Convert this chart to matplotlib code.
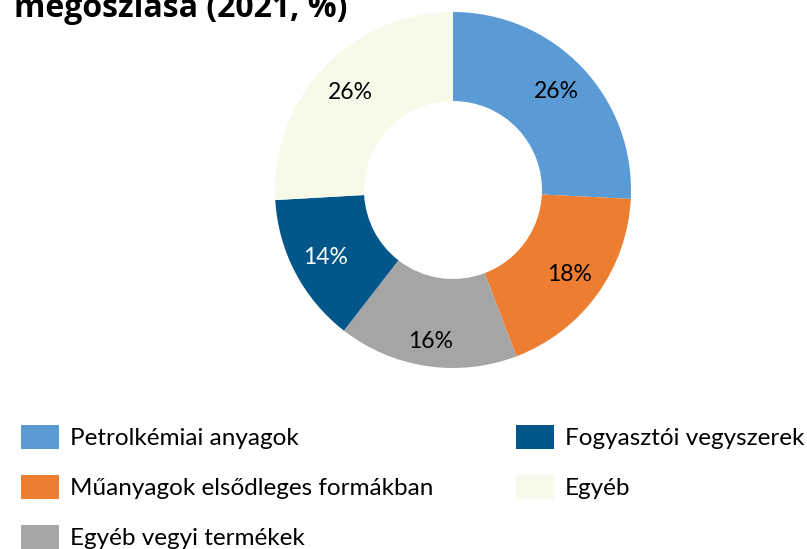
import matplotlib
matplotlib.use("Agg")
import matplotlib.pyplot as plt
import numpy as np

categories = ["Petrolkémiai anyagok", "Műanyagok elsődleges formákban",
              "Egyéb vegyi termékek", "Fogyasztói vegyszerek", "Egyéb"]
shares = [25.8, 18.4, 16.3, 13.6, 25.9]
pct_labels = ["26%", "18%", "16%", "14%", "26%"]
colors = ["#5B9BD5", "#ED7D31", "#A5A5A5", "#02568A", "#F7F9E9"]
label_colors = ["black", "black", "black", "white", "black"]
title = "megoszlása (2021, %)"

# label placement (layout only)
label_r = [0.80, 0.81, 0.86, 0.81, 0.795]

W, H = 807, 549
fig = plt.figure(figsize=(W / 100, H / 100), dpi=100)

cx, cy, R = 453, 190, 178
ax = fig.add_axes([(cx - R) / W, (H - cy - R) / H, 2 * R / W, 2 * R / H])
wedges, _ = ax.pie(shares, colors=colors, startangle=90, counterclock=False,
                   radius=1, wedgeprops=dict(width=0.5, edgecolor="none"))
ax.set_xlim(-1, 1)
ax.set_ylim(-1, 1)
ax.axis("off")

total = sum(shares)
cum = 0
for v, lab, lc, r in zip(shares, pct_labels, label_colors, label_r):
    mid = 90 - (cum + v / 2) / total * 360
    cum += v
    ax.text(r * np.cos(np.radians(mid)), r * np.sin(np.radians(mid)), lab,
            ha="center", va="center", fontsize=16.5, color=lc, family="Lato")

fig.text(14 / W, 1 - 17 / H, title, ha="left", va="baseline",
         fontsize=23, fontweight="bold", family="Open Sans")

fs = 17.5
leg = fig.legend(wedges, categories, loc="upper left",
                 bbox_to_anchor=(21 / W, 1 - 425 / H), ncol=2, frameon=False,
                 prop=dict(family="Lato", size=fs), handlelength=1.56,
                 handleheight=1.15, handletextpad=0.45, labelspacing=1.05,
                 columnspacing=3.4, borderpad=0, borderaxespad=0)

fig.savefig("out.png", dpi=100)
